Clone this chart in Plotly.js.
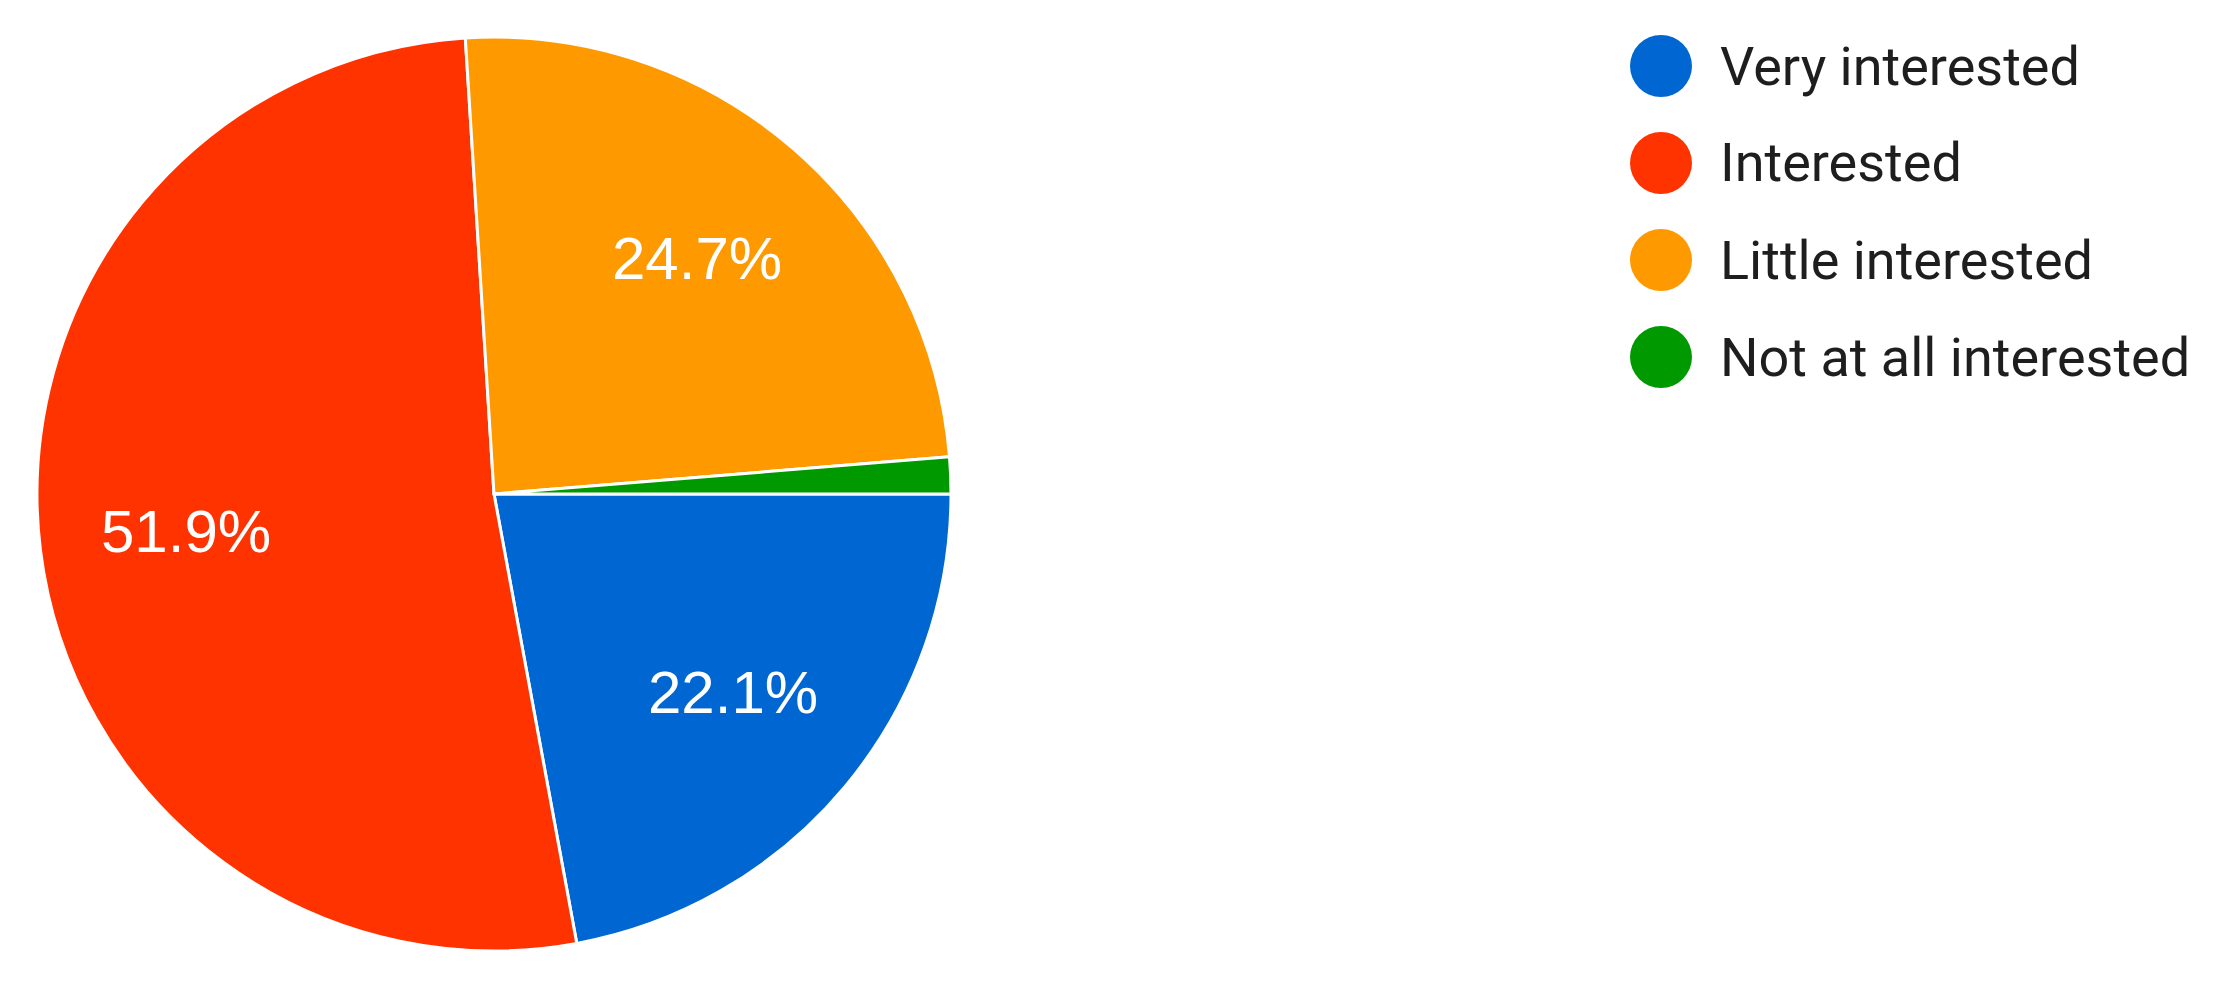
<!DOCTYPE html>
<html>
<head>
<meta charset="utf-8">
<script src="https://cdn.plot.ly/plotly-3.0.1.min.js"></script>
<style>html,body{margin:0;padding:0;background:#fff;}#chart{width:2213px;height:991px;}</style>
</head>
<body>
<div id="chart"></div>
<script>
const categories = ["Very interested", "Interested", "Little interested", "Not at all interested"];
const percentages = [22.1, 51.9, 24.7, 1.3];
const sliceColors = ["#0066d2", "#ff3300", "#ff9900", "#009900"];
const W = 2213, H = 991;

// pie geometry (pixels)
const px0 = 36, px1 = 952, py0 = 37, py1 = 951;
const cx = (px0 + px1) / 2, cy = (py0 + py1) / 2;
const R = Math.min(px1 - px0, py1 - py0) / 2;

const pie = {
  type: "pie",
  labels: categories,
  values: percentages,
  sort: false,
  direction: "clockwise",
  rotation: 90,
  marker: {colors: sliceColors, line: {color: "#ffffff", width: 3}},
  textinfo: "none",
  domain: {x: [px0 / W, px1 / W], y: [1 - py1 / H, 1 - py0 / H]},
  showlegend: false,
  hoverinfo: "label+percent"
};

const shapes = [], annotations = [];

// slice labels: placed along each slice's mid-angle (clockwise from 3 o'clock)
const total = percentages.reduce((a, b) => a + b, 0);
let cum = 0;
percentages.forEach((v, i) => {
  const frac = v / total;
  const mid = (cum + frac / 2) * 2 * Math.PI;
  cum += frac;
  if (frac < 0.05) return;
  const lx = cx + 0.68 * R * Math.cos(mid);
  const ly = cy + 0.68 * R * Math.sin(mid);
  annotations.push({xref: "paper", yref: "paper", x: lx / W, y: 1 - ly / H,
    xanchor: "center", yanchor: "middle", showarrow: false,
    text: (frac * 100).toFixed(1) + "%",
    font: {family: "Liberation Sans, Arial, sans-serif", size: 60, color: "#ffffff"}});
});

// custom legend with circular swatches
const legendX = 1661, legendTextX = 1718, legendY0 = 66, legendStep = 97, r = 31;
categories.forEach((c, i) => {
  const ry = legendY0 + i * legendStep;
  shapes.push({type: "circle", xref: "paper", yref: "paper",
    x0: (legendX - r) / W, x1: (legendX + r) / W,
    y0: 1 - (ry + r) / H, y1: 1 - (ry - r) / H,
    fillcolor: sliceColors[i], line: {width: 0}});
  annotations.push({xref: "paper", yref: "paper", x: legendTextX / W, y: 1 - ry / H,
    xanchor: "left", yanchor: "middle", showarrow: false, text: c,
    font: {family: "Roboto, sans-serif", size: 54, color: "#1e1e1e"}});
});

Plotly.newPlot("chart", [pie], {
  width: W, height: H,
  margin: {l: 0, r: 0, t: 0, b: 0},
  paper_bgcolor: "#ffffff",
  shapes: shapes,
  annotations: annotations
}, {displayModeBar: false, staticPlot: true});
</script>
</body>
</html>
